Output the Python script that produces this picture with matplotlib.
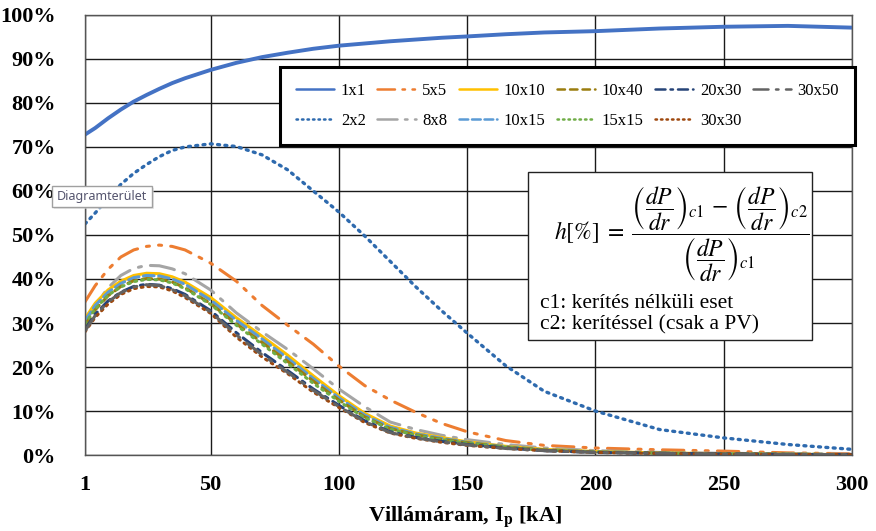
import matplotlib
matplotlib.use("Agg")
import matplotlib.pyplot as plt
from matplotlib.patches import Rectangle
from matplotlib.ticker import PercentFormatter

plt.rcParams['mathtext.fontset'] = 'stix'

# villámáram [kA]
ip = [1, 5, 10, 15, 20, 25, 30, 35, 40, 50, 60, 70, 80, 90, 100, 110, 120,
      130, 140, 150, 165, 180, 200, 225, 250, 275, 300]

# h [%] for each grid size
h_1x1 = [72.8, 74.3, 76.5, 78.5, 80.3, 81.8, 83.2, 84.5, 85.6, 87.5, 89.1, 90.4,
         91.4, 92.3, 93.0, 93.5, 94.0, 94.4, 94.8, 95.1, 95.6, 96.0, 96.3, 96.9,
         97.3, 97.5, 97.1]
h_2x2 = [52.5, 55.0, 58.3, 61.5, 64.0, 66.0, 67.8, 69.2, 70.0, 70.7, 70.1, 68.2,
         64.8, 60.0, 55.2, 49.8, 44.0, 38.2, 32.8, 27.7, 20.3, 14.5, 10.0, 5.8,
         3.9, 2.4, 1.3]
h_5x5 = [34.8, 38.5, 42.2, 45.0, 46.6, 47.4, 47.7, 47.4, 46.6, 43.6, 39.5, 34.0,
         29.5, 25.2, 20.2, 15.8, 12.5, 9.7, 7.2, 5.3, 3.3, 2.2, 1.6, 1.2, 0.9, 0.5, 0.3]
h_8x8 = [30.0, 34.0, 38.0, 40.8, 42.4, 43.1, 43.0, 42.3, 41.2, 37.5, 32.3, 28.0,
         24.0, 19.6, 15.0, 11.0, 7.5, 5.8, 4.5, 3.5, 2.4, 1.6, 1.0, 0.6, 0.4, 0.3, 0.2]
h_10x10 = [31.0, 34.5, 37.5, 39.5, 40.8, 41.3, 41.2, 40.5, 39.3, 35.8, 31.2, 27.0,
           22.7, 18.0, 13.5, 9.5, 6.6, 5.0, 4.0, 3.0, 2.0, 1.3, 0.8, 0.5, 0.3, 0.2, 0.1]
h_10x15 = [30.5, 34.0, 37.0, 39.0, 40.3, 40.8, 40.7, 40.0, 38.8, 35.2, 30.6, 26.4,
           22.0, 17.4, 13.0, 9.1, 6.3, 4.8, 3.8, 2.9, 1.9, 1.2, 0.75, 0.45, 0.3, 0.2, 0.1]
h_10x40 = [29.5, 33.0, 36.2, 38.3, 39.6, 40.1, 40.0, 39.3, 38.0, 34.4, 29.8, 25.6,
           21.3, 16.8, 12.5, 8.7, 6.0, 4.6, 3.6, 2.8, 1.8, 1.2, 0.7, 0.45, 0.3, 0.2, 0.1]
h_15x15 = [29.8, 33.2, 36.3, 38.2, 39.4, 39.9, 39.8, 39.1, 37.8, 34.2, 29.5, 25.2,
           20.8, 16.3, 12.2, 8.5, 5.9, 4.5, 3.5, 2.7, 1.8, 1.1, 0.7, 0.4, 0.3, 0.2, 0.1]
h_20x30 = [28.5, 32.0, 35.0, 37.0, 38.3, 38.8, 38.6, 37.8, 36.5, 32.8, 27.8, 23.3,
           19.2, 15.0, 11.3, 7.8, 5.3, 4.0, 3.1, 2.4, 1.6, 1.0, 0.6, 0.4, 0.25, 0.15, 0.1]
h_30x30 = [28.0, 31.3, 34.3, 36.5, 37.8, 38.3, 38.2, 37.3, 35.8, 32.2, 26.8, 22.3,
           18.5, 14.3, 10.8, 7.4, 5.0, 3.8, 2.9, 2.2, 1.5, 1.0, 0.6, 0.35, 0.2, 0.15, 0.1]
h_30x50 = [28.2, 31.7, 34.8, 36.9, 38.2, 38.7, 38.5, 37.6, 36.2, 32.5, 27.3, 22.8,
           18.8, 14.7, 11.0, 7.6, 5.1, 3.9, 3.0, 2.3, 1.5, 1.0, 0.6, 0.4, 0.25, 0.15, 0.1]

labels = ['1x1', '2x2', '5x5', '8x8', '10x10', '10x15', '10x40', '15x15',
          '20x30', '30x30', '30x50']
series = [h_1x1, h_2x2, h_5x5, h_8x8, h_10x10, h_10x15, h_10x40, h_15x15,
          h_20x30, h_30x30, h_30x50]
colors = ['#4472C4', '#2E6AAE', '#ED7D31', '#A5A5A5', '#FFC000', '#5B9BD5',
          '#9B7D0F', '#70AD47', '#264478', '#9E480E', '#636363']
styles = ['-', (0, (0.6, 1.6)), (0, (7, 3, 1, 3, 1, 3)), (0, (8, 3, 1, 3)), '-',
          (0, (3.5, 1.5)), (0, (3, 2)), (0, (0.6, 1.6)), (0, (4, 2, 1, 2)),
          (0, (0.6, 1.6)), (0, (6, 3, 1, 3))]
widths = [2.8, 2.4, 2.2, 2.2, 2.2, 2.2, 2.2, 2.2, 2.2, 2.2, 2.2]

fig = plt.figure(figsize=(8.76, 5.31), dpi=100)
ax = fig.add_axes([0.097, 0.143, 0.8756, 0.829])

for lab, vals, c, ls, lw in zip(labels, series, colors, styles, widths):
    ax.plot(ip, vals, color=c, linestyle=ls, linewidth=lw, label=lab,
            solid_capstyle='round', dash_capstyle='round')

ax.set_xlim(1, 300)
ax.set_ylim(0, 100)
ax.set_xticks([1, 50, 100, 150, 200, 250, 300])
ax.set_yticks(range(0, 101, 10))
ax.yaxis.set_major_formatter(PercentFormatter(100, decimals=0))
ax.grid(True, color='#1a1a1a', linewidth=1.0)
ax.set_axisbelow(True)
for s in ax.spines.values():
    s.set_color('#555555')
    s.set_linewidth(1.0)
ax.tick_params(length=0, labelsize=16, pad=14)
ax.tick_params(axis='y', pad=21)
for t in ax.get_xticklabels() + ax.get_yticklabels():
    t.set_fontfamily('Liberation Serif')
    t.set_fontweight('bold')

fig.text(465 / 876, 1 - 517 / 531, r'Villámáram, I$_\mathbf{p}$ [kA]',
         family='Liberation Serif', fontweight='bold', fontsize=16,
         ha='center', va='center')

leg = ax.legend(ncol=6, loc='upper left', mode='expand',
                bbox_to_anchor=(280 / 876, 1 - 72 / 531, 575 / 876, 0.01),
                bbox_transform=fig.transFigure,
                prop={'family': 'Liberation Serif', 'size': 12},
                fancybox=False, framealpha=1, edgecolor='black',
                borderpad=0.95, labelspacing=0.85, handlelength=2.3,
                handletextpad=0.4, borderaxespad=0)
leg.get_frame().set_linewidth(2.2)
for h in leg.get_lines():
    h.set_linewidth(1.8)

# formula box
fx0, fy0, fx1, fy1 = 528, 172, 812, 340
fig.add_artist(Rectangle((fx0 / 876, 1 - fy1 / 531), (fx1 - fx0) / 876,
                         (fy1 - fy0) / 531, transform=fig.transFigure,
                         facecolor='white', edgecolor='#222222', linewidth=1.0,
                         zorder=6))
formula = (r'$h[\%]\;=\;\dfrac{\left(\dfrac{dP}{dr}\right)_{c1}\,-\,'
           r'\left(\dfrac{dP}{dr}\right)_{c2}}{\left(\dfrac{dP}{dr}\right)_{c1}}$')
fig.text(682 / 876, 1 - 234 / 531, formula, fontsize=17, ha='center',
         va='center', zorder=7)
fig.text(540 / 876, 1 - 304 / 531, 'c1: kerítés nélküli eset',
         family='Liberation Serif', fontsize=15.5, va='center', zorder=7)
fig.text(540 / 876, 1 - 325 / 531, 'c2: kerítéssel (csak a PV)',
         family='Liberation Serif', fontsize=15.5, va='center', zorder=7)

# tooltip left by Excel
fig.add_artist(Rectangle((54 / 876, 1 - 209 / 531), 100 / 876, 21 / 531,
                         transform=fig.transFigure, facecolor='#d8d8d8',
                         edgecolor='none', alpha=0.6, zorder=8))
fig.add_artist(Rectangle((52 / 876, 1 - 207 / 531), 100 / 876, 21 / 531,
                         transform=fig.transFigure, facecolor='white',
                         edgecolor='#a0a0a0', linewidth=1.0, zorder=9))
fig.text(102 / 876, 1 - 196.5 / 531, 'Diagramterület', family='Noto Sans',
         fontsize=9, color='#55556e', ha='center', va='center', zorder=10)

fig.savefig('out.png', dpi=100)
